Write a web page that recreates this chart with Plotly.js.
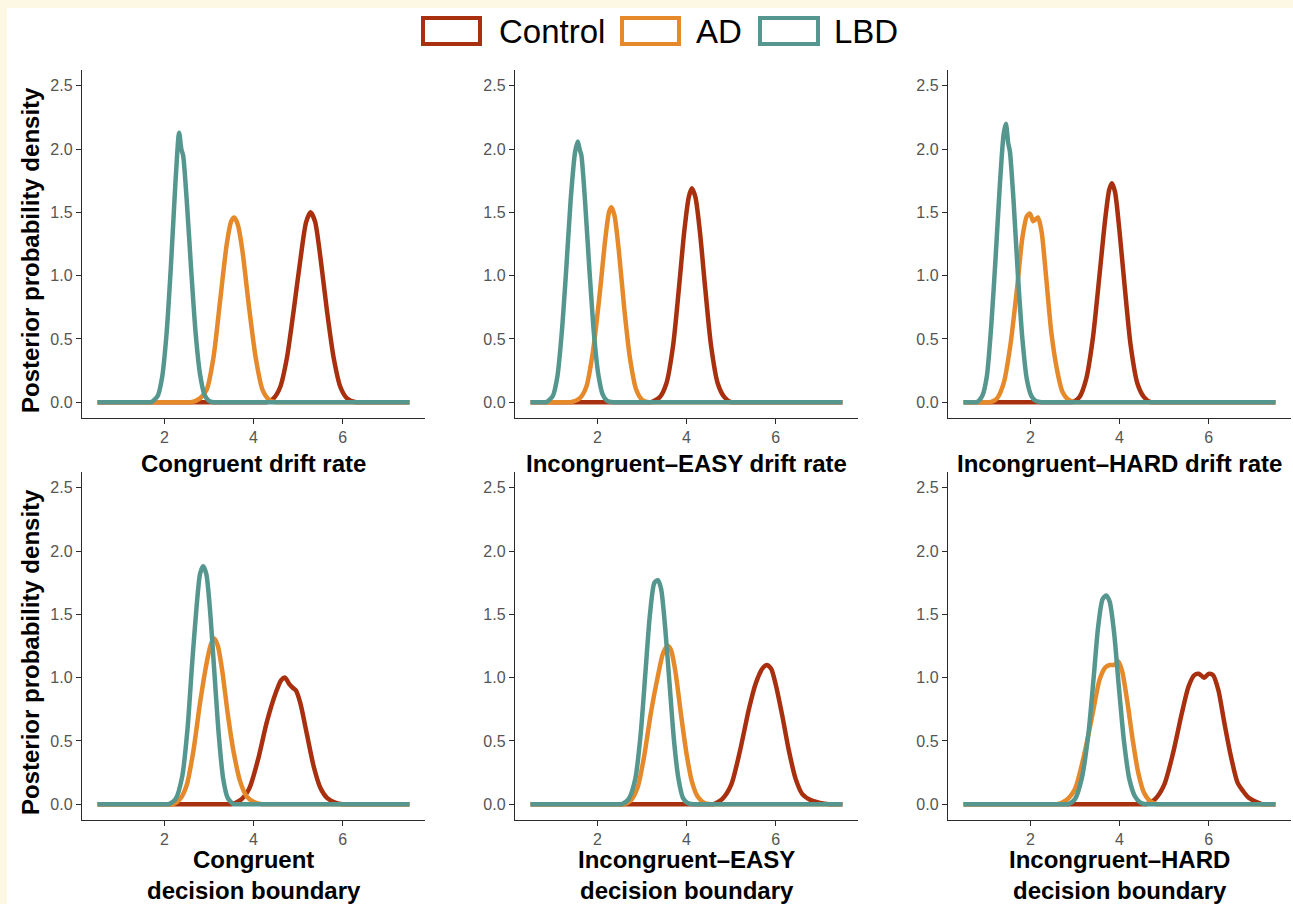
<!DOCTYPE html>
<html><head><meta charset="utf-8">
<script src="https://cdn.plot.ly/plotly-3.0.1.min.js"></script>
<style>
html,body{margin:0;padding:0;background:#fdf8e3;}
#chart{position:absolute;left:7px;top:8px;width:1286px;height:896px;background:#fff;}
</style></head><body><div id="chart"></div>
<script>
// ---------- data ----------
const groups = ["Control", "AD", "LBD"];
const groupColors = ["#a8300f", "#e5892a", "#55978f"];
const panelTitles = [
  "Congruent drift rate",
  "Incongruent\u2013EASY drift rate",
  "Incongruent\u2013HARD drift rate",
  "Congruent<br>decision boundary",
  "Incongruent\u2013EASY<br>decision boundary",
  "Incongruent\u2013HARD<br>decision boundary"
];
const yAxisTitle = "Posterior probability density";
const xTickVals = [2, 4, 6];
const yTickVals = [0, 0.5, 1, 1.5, 2, 2.5];

// Panel 1: Congruent drift rate
const p1_control_x = [0.5, 4.2, 4.3, 4.45, 4.6, 4.75, 4.9, 5.05, 5.18, 5.28, 5.38, 5.5, 5.65, 5.8, 5.95, 6.1, 6.3, 6.4, 7.5];
const p1_control_y = [0, 0, 0, 0.03, 0.12, 0.35, 0.72, 1.12, 1.42, 1.50, 1.43, 1.15, 0.72, 0.35, 0.12, 0.03, 0, 0, 0];
const p1_ad_x = [0.5, 2.5, 2.6, 2.8, 2.95, 3.1, 3.25, 3.4, 3.5, 3.57, 3.65, 3.75, 3.9, 4.05, 4.2, 4.35, 4.5, 4.6, 7.5];
const p1_ad_y = [0, 0, 0, 0.03, 0.1, 0.35, 0.8, 1.25, 1.43, 1.46, 1.4, 1.2, 0.75, 0.35, 0.1, 0.02, 0, 0, 0];
const p1_lbd_x = [0.5, 1.6, 1.7, 1.85, 1.95, 2.05, 2.15, 2.25, 2.33, 2.38, 2.42, 2.5, 2.6, 2.7, 2.8, 2.9, 3.0, 3.1, 3.2, 7.5];
const p1_lbd_y = [0, 0, 0, 0.05, 0.2, 0.55, 1.1, 1.75, 2.13, 2.0, 1.95, 1.6, 1.05, 0.55, 0.22, 0.06, 0.01, 0, 0, 0];

// Panel 2: Incongruent-EASY drift rate
const p2_control_x = [0.5, 3.1, 3.2, 3.4, 3.55, 3.7, 3.83, 3.95, 4.05, 4.12, 4.2, 4.3, 4.42, 4.55, 4.7, 4.85, 5.0, 5.1, 7.5];
const p2_control_y = [0, 0, 0, 0.04, 0.15, 0.45, 0.9, 1.35, 1.62, 1.69, 1.62, 1.35, 0.9, 0.45, 0.15, 0.04, 0, 0, 0];
const p2_ad_x = [0.5, 1.3, 1.4, 1.6, 1.75, 1.9, 2.05, 2.18, 2.26, 2.31, 2.38, 2.48, 2.6, 2.73, 2.87, 3.0, 3.15, 3.25, 7.5];
const p2_ad_y = [0, 0, 0, 0.03, 0.12, 0.4, 0.85, 1.3, 1.5, 1.54, 1.48, 1.2, 0.75, 0.35, 0.1, 0.02, 0, 0, 0];
const p2_lbd_x = [0.5, 0.75, 0.85, 1.0, 1.1, 1.2, 1.3, 1.4, 1.5, 1.56, 1.6, 1.64, 1.72, 1.82, 1.92, 2.02, 2.12, 2.22, 2.35, 2.45, 7.5];
const p2_lbd_y = [0, 0, 0, 0.05, 0.2, 0.55, 1.05, 1.6, 1.98, 2.06, 2.0, 1.95, 1.6, 1.05, 0.55, 0.22, 0.06, 0.01, 0, 0, 0];

// Panel 3: Incongruent-HARD drift rate
const p3_control_x = [0.5, 2.85, 2.95, 3.1, 3.25, 3.4, 3.55, 3.68, 3.77, 3.83, 3.9, 4.0, 4.12, 4.25, 4.4, 4.55, 4.7, 4.8, 7.5];
const p3_control_y = [0, 0, 0, 0.04, 0.18, 0.5, 1.0, 1.45, 1.68, 1.73, 1.66, 1.35, 0.9, 0.45, 0.15, 0.04, 0, 0, 0];
const p3_ad_x = [0.5, 1.0, 1.1, 1.25, 1.4, 1.55, 1.7, 1.82, 1.92, 1.99, 2.06, 2.1, 2.17, 2.25, 2.35, 2.47, 2.6, 2.72, 2.85, 3.0, 3.1, 7.5];
const p3_ad_y = [0, 0, 0, 0.03, 0.15, 0.45, 0.9, 1.3, 1.47, 1.49, 1.43, 1.44, 1.46, 1.35, 1.0, 0.55, 0.25, 0.08, 0.02, 0, 0, 0];
const p3_lbd_x = [0.5, 0.7, 0.8, 0.92, 1.02, 1.12, 1.22, 1.32, 1.4, 1.45, 1.5, 1.54, 1.62, 1.72, 1.82, 1.92, 2.02, 2.12, 2.25, 2.35, 7.5];
const p3_lbd_y = [0, 0, 0, 0.05, 0.2, 0.6, 1.15, 1.75, 2.12, 2.20, 2.05, 1.98, 1.6, 1.0, 0.5, 0.18, 0.05, 0.01, 0, 0, 0];

// Panel 4: Congruent decision boundary
const p4_control_x = [0.5, 3.4, 3.5, 3.7, 3.9, 4.1, 4.3, 4.5, 4.62, 4.71, 4.8, 4.88, 4.95, 5.05, 5.2, 5.35, 5.5, 5.65, 5.85, 6.0, 6.1, 7.5];
const p4_control_y = [0, 0, 0, 0.03, 0.12, 0.35, 0.65, 0.88, 0.98, 1.0, 0.95, 0.92, 0.9, 0.8, 0.55, 0.3, 0.13, 0.05, 0.01, 0, 0, 0];
const p4_ad_x = [0.5, 2.1, 2.2, 2.35, 2.5, 2.65, 2.8, 2.95, 3.05, 3.12, 3.2, 3.3, 3.42, 3.55, 3.7, 3.85, 4.0, 4.2, 4.3, 7.5];
const p4_ad_y = [0, 0, 0, 0.04, 0.15, 0.42, 0.8, 1.12, 1.27, 1.31, 1.25, 1.05, 0.72, 0.42, 0.18, 0.06, 0.02, 0, 0, 0];
const p4_lbd_x = [0.5, 2.0, 2.1, 2.25, 2.4, 2.52, 2.62, 2.72, 2.8, 2.87, 2.94, 3.02, 3.12, 3.22, 3.32, 3.42, 3.55, 3.65, 7.5];
const p4_lbd_y = [0, 0, 0, 0.04, 0.22, 0.6, 1.1, 1.55, 1.82, 1.88, 1.82, 1.55, 1.05, 0.55, 0.2, 0.05, 0, 0, 0];

// Panel 5: Incongruent-EASY decision boundary
const p5_control_x = [0.5, 4.5, 4.6, 4.8, 5.0, 5.2, 5.4, 5.55, 5.7, 5.8, 5.9, 6.0, 6.15, 6.3, 6.45, 6.6, 6.8, 7.0, 7.2, 7.3, 7.5];
const p5_control_y = [0, 0, 0, 0.04, 0.15, 0.42, 0.75, 0.95, 1.07, 1.10, 1.07, 0.95, 0.7, 0.42, 0.2, 0.08, 0.03, 0.01, 0, 0, 0];
const p5_ad_x = [0.5, 2.5, 2.6, 2.75, 2.9, 3.05, 3.2, 3.35, 3.48, 3.58, 3.65, 3.75, 3.88, 4.0, 4.12, 4.25, 4.4, 4.55, 4.65, 7.5];
const p5_ad_y = [0, 0, 0, 0.03, 0.13, 0.38, 0.72, 1.0, 1.2, 1.25, 1.22, 1.05, 0.7, 0.4, 0.18, 0.06, 0.01, 0, 0, 0];
const p5_lbd_x = [0.5, 2.45, 2.55, 2.7, 2.85, 2.97, 3.08, 3.18, 3.28, 3.36, 3.43, 3.52, 3.62, 3.72, 3.82, 3.92, 4.02, 4.15, 4.25, 7.5];
const p5_lbd_y = [0, 0, 0, 0.04, 0.2, 0.55, 1.05, 1.5, 1.75, 1.77, 1.7, 1.4, 0.95, 0.5, 0.2, 0.05, 0.01, 0, 0, 0];

// Panel 6: Incongruent-HARD decision boundary
const p6_control_x = [0.5, 4.5, 4.6, 4.8, 5.0, 5.2, 5.4, 5.55, 5.68, 5.78, 5.9, 6.0, 6.1, 6.22, 6.35, 6.5, 6.65, 6.78, 6.9, 7.05, 7.2, 7.3, 7.5];
const p6_control_y = [0, 0, 0, 0.04, 0.15, 0.4, 0.72, 0.93, 1.02, 1.03, 1.0, 1.03, 1.02, 0.9, 0.65, 0.38, 0.17, 0.1, 0.05, 0.02, 0, 0, 0];
const p6_ad_x = [0.5, 2.5, 2.6, 2.8, 3.0, 3.2, 3.4, 3.55, 3.68, 3.78, 3.88, 3.97, 4.06, 4.18, 4.3, 4.42, 4.55, 4.7, 4.85, 4.95, 7.5];
const p6_ad_y = [0, 0, 0, 0.03, 0.12, 0.38, 0.72, 0.98, 1.08, 1.1, 1.1, 1.13, 1.05, 0.8, 0.5, 0.25, 0.09, 0.02, 0, 0, 0];
const p6_lbd_x = [0.5, 2.75, 2.85, 3.0, 3.15, 3.3, 3.42, 3.52, 3.62, 3.7, 3.78, 3.88, 3.98, 4.1, 4.22, 4.35, 4.48, 4.6, 4.7, 7.5];
const p6_lbd_y = [0, 0, 0, 0.04, 0.2, 0.55, 1.0, 1.4, 1.62, 1.65, 1.6, 1.35, 0.95, 0.5, 0.2, 0.06, 0.01, 0, 0, 0];

const panelData = [
  [[p1_control_x, p1_control_y], [p1_ad_x, p1_ad_y], [p1_lbd_x, p1_lbd_y]],
  [[p2_control_x, p2_control_y], [p2_ad_x, p2_ad_y], [p2_lbd_x, p2_lbd_y]],
  [[p3_control_x, p3_control_y], [p3_ad_x, p3_ad_y], [p3_lbd_x, p3_lbd_y]],
  [[p4_control_x, p4_control_y], [p4_ad_x, p4_ad_y], [p4_lbd_x, p4_lbd_y]],
  [[p5_control_x, p5_control_y], [p5_ad_x, p5_ad_y], [p5_lbd_x, p5_lbd_y]],
  [[p6_control_x, p6_control_y], [p6_ad_x, p6_ad_y], [p6_lbd_x, p6_lbd_y]]
];

// ---------- layout helpers ----------
const W = 1286, H = 896;
const px = v => v / W;
const py = v => 1 - v / H;
const colPx = [[75, 418], [508, 851], [941, 1284]];
const rowPx = [[62, 410], [464, 812]];
const FONT = "Liberation Sans, Arial, Helvetica, sans-serif";

const traces = [];
const layout = {
  width: W, height: H,
  margin: {l: 0, r: 0, t: 0, b: 0},
  paper_bgcolor: "#ffffff",
  plot_bgcolor: "#ffffff",
  showlegend: false,
  font: {family: FONT},
  annotations: [],
  shapes: []
};

panelData.forEach((series, i) => {
  const n = i + 1;
  const row = Math.floor(i / 3), col = i % 3;
  const xa = n === 1 ? "xaxis" : "xaxis" + n;
  const ya = n === 1 ? "yaxis" : "yaxis" + n;
  series.forEach((s, g) => {
    traces.push({
      type: "scatter", mode: "lines",
      x: s[0], y: s[1], name: groups[g],
      xaxis: "x" + (n === 1 ? "" : n), yaxis: "y" + (n === 1 ? "" : n),
      line: {color: groupColors[g], width: 4.5, shape: "spline", smoothing: 0.7},
      hoverinfo: "skip", showlegend: false
    });
  });
  const common = {
    showgrid: false, zeroline: false, showline: true,
    linecolor: "#2b2b2b", linewidth: 1.2,
    ticks: "outside", ticklen: 5, tickwidth: 1.1, tickcolor: "#2b2b2b",
    tickfont: {family: FONT, size: 16, color: "#555555"},
    fixedrange: true
  };
  layout[xa] = Object.assign({}, common, {
    domain: [px(colPx[col][0]), px(colPx[col][1])],
    range: [0.15, 7.85], tickvals: xTickVals, ticktext: xTickVals.map(String),
    anchor: "y" + (n === 1 ? "" : n)
  });
  layout[ya] = Object.assign({}, common, {
    domain: [py(rowPx[row][1]), py(rowPx[row][0])],
    range: [-0.125, 2.625], tickvals: yTickVals, ticktext: yTickVals.map(v => v.toFixed(1)),
    anchor: "x" + (n === 1 ? "" : n)
  });
  // x axis title
  layout.annotations.push({
    xref: "paper", yref: "paper",
    x: px((colPx[col][0] + colPx[col][1]) / 2),
    y: py(row === 0 ? 455 : 867),
    text: "<b>" + panelTitles[i] + "</b>",
    showarrow: false, xanchor: "center", yanchor: "middle",
    font: {family: FONT, size: 24, color: "#000000"}
  });
  if (col === 0) {
    layout.annotations.push({
      xref: "paper", yref: "paper",
      x: px(23), y: py((rowPx[row][0] + rowPx[row][1]) / 2 + 6),
      text: "<b>" + yAxisTitle + "</b>", textangle: -90,
      showarrow: false, xanchor: "center", yanchor: "middle",
      font: {family: FONT, size: 24, color: "#000000"}
    });
  }
});

// legend (drawn manually: outlined boxes + labels)
const legBoxes = [[416, 473], [615, 672], [753, 811]];
const legText = [490, 687, 825];
const legY = 23;
groups.forEach((g, k) => {
  layout.shapes.push({
    type: "rect", xref: "paper", yref: "paper",
    x0: px(legBoxes[k][0]), x1: px(legBoxes[k][1]),
    y0: py(legY + 13), y1: py(legY - 13),
    line: {color: groupColors[k], width: 4}, fillcolor: "#ffffff"
  });
  layout.annotations.push({
    xref: "paper", yref: "paper", x: px(legText[k]), y: py(legY),
    text: g, showarrow: false, xanchor: "left", yanchor: "middle",
    font: {family: FONT, size: 33, color: "#000000"}
  });
});

Plotly.newPlot("chart", traces, layout, {displayModeBar: false, staticPlot: true});
</script></body></html>
